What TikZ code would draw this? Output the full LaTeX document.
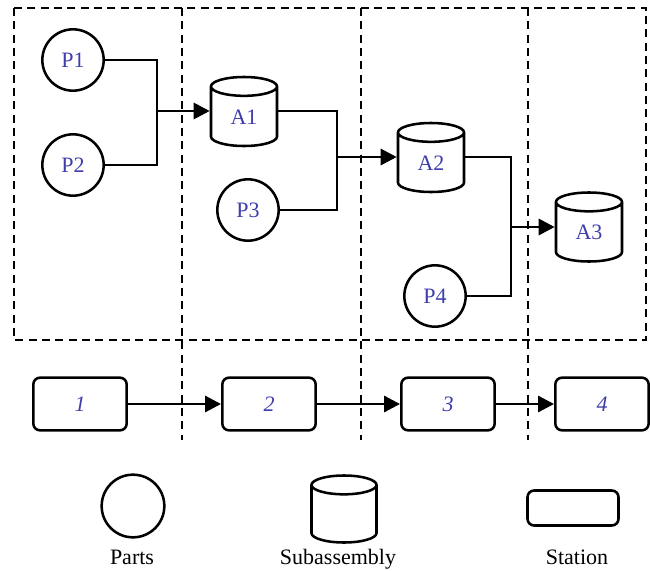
\documentclass[tikz,border=0pt]{standalone}
\usepackage{fontspec}
\setmainfont{Liberation Serif}
\usetikzlibrary{shapes.geometric,arrows.meta}
\definecolor{labelblue}{RGB}{62,62,172}

\tikzset{every picture/.style={line width=1.9pt}}
\tikzset{
  part/.style={draw, circle, minimum size=46pt, inner sep=0pt, text=labelblue, font=\fontsize{16.5}{18}\selectfont},
  subasm/.style={draw, cylinder, shape border rotate=90, aspect=0.7, anchor=shape center, minimum width=49.5pt, minimum height=51.75pt, inner sep=0pt, text=labelblue, font=\fontsize{16.5}{18}\selectfont},
  station/.style={draw, rounded corners=5pt, minimum width=70pt, minimum height=39.5pt, inner sep=0pt, text=labelblue, font=\fontsize{16.5}{18}\selectfont\itshape},
  legendtext/.style={font=\fontsize{16.5}{18}\selectfont},
  flow/.style={line width=2.2pt},
  flowarrow/.style={line width=2.2pt, -{Triangle[length=12pt,width=12pt]}},
  cell/.style={line width=1.8pt, dash pattern=on 6pt off 4pt}
}

\begin{document}
\begin{tikzpicture}[x=0.75pt,y=0.75pt,yscale=-1,xscale=1]
\useasboundingbox (0,0) rectangle (650,571);

%Dashed frame and station borders
\draw [cell] (14,8) rectangle (646,340);
\draw [cell] (182,8) -- (182,440);
\draw [cell] (361,8) -- (361,440);
\draw [cell] (528,8) -- (528,440);

%Shape: Parts
\node [part] (p1) at (73,60) {P1};
\node [part] (p2) at (73,165) {P2};
\node [part] (p3) at (248,210) {P3};
\node [part] (p4) at (435,296) {P4};

%Shape: Subassemblies
\node [subasm] (a1) at (244,111.5) {A1};
\node [subasm] (a2) at (431,157.5) {A2};
\node [subasm] (a3) at (589,227) {A3};

%Joins
\coordinate (j1) at (157,111);
\coordinate (j2) at (337,157);
\coordinate (j3) at (511,227);

%Straight Lines
\draw [flow] (p1.east) -| (j1);
\draw [flow] (p2.east) -| (j1);
\draw [flowarrow] (j1) -- (j1 -| a1.west);
\draw [flow] (a1.east |- j1) -| (j2);
\draw [flow] (p3.east) -| (j2);
\draw [flowarrow] (j2) -- (j2 -| a2.west);
\draw [flow] (a2.east |- j2) -| (j3);
\draw [flow] (p4.east) -| (j3);
\draw [flowarrow] (j3) -- (j3 -| a3.west);

%Shape: Stations
\node [station] (s1) at (80,404) {1};
\node [station] (s2) at (269,404) {2};
\node [station] (s3) at (448,404) {3};
\node [station] (s4) at (602,404) {4};

\draw [flowarrow] (s1) -- (s2);
\draw [flowarrow] (s2) -- (s3);
\draw [flowarrow] (s3) -- (s4);

%Legend
\node [part, minimum size=47pt] (lpart) at (133,506) {};
\node [subasm, minimum width=48.75pt, minimum height=50.25pt] (lsub) at (344,509) {\phantom{A1}};
\node [station, minimum width=68.25pt, minimum height=26.25pt] (lstat) at (573,508) {};

% Text Node
\node [legendtext] (tpart) at (132,557) {Parts};
% Text Node
\node [legendtext] (tsub) at (338,559) {Subassembly};
% Text Node
\node [legendtext] (tstat) at (577,557) {Station};

\end{tikzpicture}
\end{document}
